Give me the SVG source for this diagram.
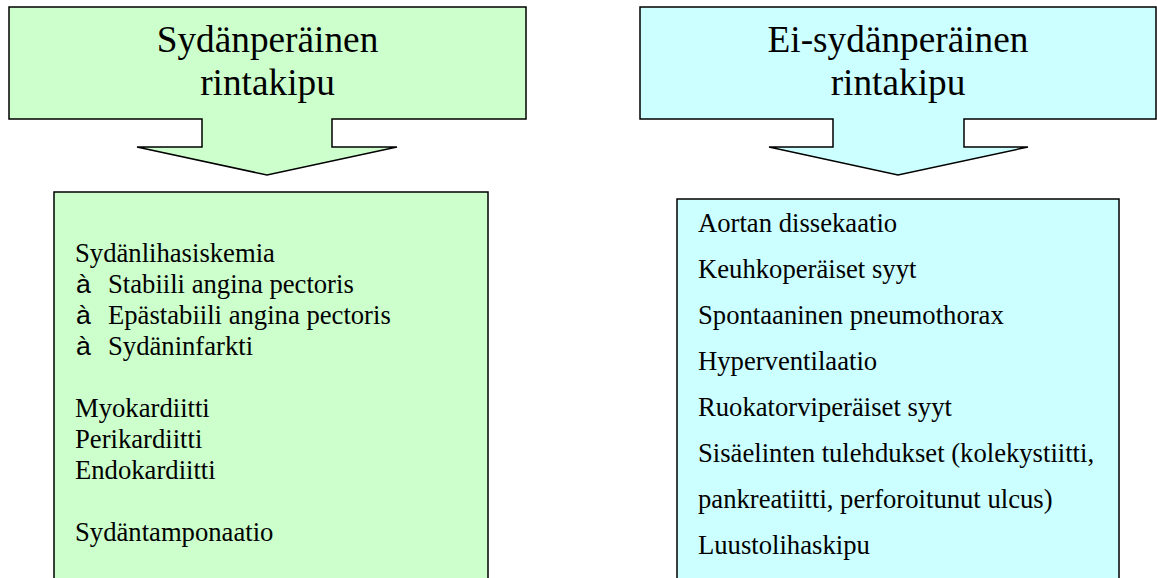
<svg xmlns="http://www.w3.org/2000/svg" width="1157" height="578" viewBox="0 0 1157 578">
<style>
.green{fill:#CCFFCC;stroke:#000;stroke-width:1.5}
.cyan{fill:#CCFFFF;stroke:#000;stroke-width:1.5}
.head{font-family:"Liberation Serif","Times New Roman",serif;font-size:37.3px;fill:#000;text-anchor:middle}
.body{font-family:"Liberation Serif","Times New Roman",serif;font-size:26.67px;fill:#000}
.bul{font-family:"Liberation Sans",Arial,sans-serif;font-size:26.67px;fill:#000}
</style>
<rect width="1157" height="578" fill="#fff"/>
<g id="callout-cardiac">
<path class="green" d="M9,7 H526 V119 H332 V147 H397 L267,175 L137,147 H202 V119 H9 Z"/>
<text class="head" x="267.5" y="52">Sydänperäinen</text>
<text class="head" x="267.5" y="95">rintakipu</text>
</g>
<g id="callout-noncardiac">
<path class="cyan" d="M640,7 H1156 V119 H964 V147 H1028 L898,175 L769,147 H833 V119 H640 Z"/>
<text class="head" x="898" y="52">Ei-sydänperäinen</text>
<text class="head" x="898" y="95">rintakipu</text>
</g>
<g id="list-cardiac">
<rect class="green" x="54" y="192" width="434" height="400"/>
<text class="body" x="75" y="262">Sydänlihasiskemia</text>
<text class="bul" x="76" y="293">à</text><text class="body" x="108" y="293">Stabiili angina pectoris</text>
<text class="bul" x="76" y="324">à</text><text class="body" x="108" y="324">Epästabiili angina pectoris</text>
<text class="bul" x="76" y="355">à</text><text class="body" x="108" y="355">Sydäninfarkti</text>
<text class="body" x="75" y="417">Myokardiitti</text>
<text class="body" x="75" y="448">Perikardiitti</text>
<text class="body" x="75" y="479">Endokardiitti</text>
<text class="body" x="75" y="541">Sydäntamponaatio</text>
</g>
<g id="list-noncardiac">
<rect class="cyan" x="677" y="199" width="442" height="400"/>
<text class="body" x="698" y="232">Aortan dissekaatio</text>
<text class="body" x="698" y="278">Keuhkoperäiset syyt</text>
<text class="body" x="698" y="324">Spontaaninen pneumothorax</text>
<text class="body" x="698" y="370">Hyperventilaatio</text>
<text class="body" x="698" y="416">Ruokatorviperäiset syyt</text>
<text class="body" x="698" y="462">Sisäelinten tulehdukset (kolekystiitti,</text>
<text class="body" x="698" y="508">pankreatiitti, perforoitunut ulcus)</text>
<text class="body" x="698" y="554">Luustolihaskipu</text>
</g>
<g id="connectors"/>
</svg>
